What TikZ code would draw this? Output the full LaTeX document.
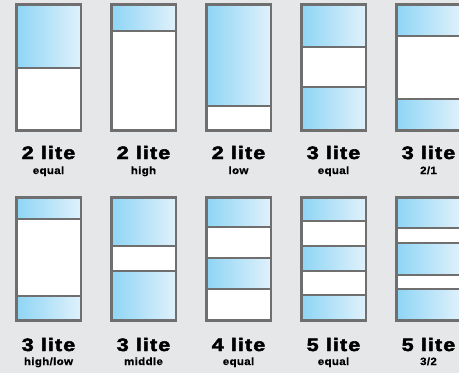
\documentclass[tikz,border=0pt]{standalone}
\usepackage{fontspec}
\usepackage{xcolor}
\usetikzlibrary{positioning}
\newfontfamily\titlefam{Liberation Sans}[UprightFont=* Bold, LetterSpace=6, FakeBold=2.6, FakeStretch=1.2]
\newfontfamily\subfam{Liberation Sans}[UprightFont=* Bold, LetterSpace=3, FakeBold=0.8, FakeStretch=1.1]
\definecolor{bgGray}{HTML}{E6E7E9}
\definecolor{frameGray}{HTML}{6F6F70}
\definecolor{glassL}{HTML}{8ED5F5}
\definecolor{glassR}{HTML}{E0F1FB}

% one window: x, top, bottom
\newcommand\sashframe[3]{\fill[white] (#1,#2) rectangle (#1+64.5,#3);}
\newcommand\sashline[3]{\draw[frame] (#1,#2) rectangle (#1+64.5,#3);}
% blue pane: x, from, to
\newcommand\pane[3]{\shade[glass] (#1,#2) rectangle (#1+64.5,#3);}
% muntin: x, y
\newcommand\muntin[2]{\draw[frame] (#1,#2) -- (#1+64.5,#2);}

\begin{document}
\begin{tikzpicture}[x=1pt, y=-1pt,
    glass/.style={left color=glassL, right color=glassR},
    frame/.style={draw=frameGray, line width=2.5pt},
    title/.style={font=\titlefam\fontsize{18}{19}\selectfont, anchor=base, inner sep=0pt},
    sub/.style={font=\subfam\fontsize{10.5}{11}\selectfont, anchor=base, inner sep=0pt}]
  \fill[bgGray] (0,0) rectangle (459,373);
  \useasboundingbox (0,0) rectangle (459,373);
  \clip (0,0) rectangle (459,373);

  % top row
  \sashframe{16.25}{4.6}{130.4}
  \pane{16.25}{4.6}{68}
  \muntin{16.25}{68}
  \sashline{16.25}{4.6}{130.4}

  \sashframe{111.25}{4.6}{130.4}
  \pane{111.25}{4.6}{31}
  \muntin{111.25}{31}
  \sashline{111.25}{4.6}{130.4}

  \sashframe{206.25}{4.6}{130.4}
  \pane{206.25}{4.6}{106}
  \muntin{206.25}{106}
  \sashline{206.25}{4.6}{130.4}

  \sashframe{301.25}{4.6}{130.4}
  \pane{301.25}{4.6}{47}
  \pane{301.25}{87}{130.4}
  \muntin{301.25}{47}
  \muntin{301.25}{87}
  \sashline{301.25}{4.6}{130.4}

  \sashframe{396.25}{4.6}{130.4}
  \pane{396.25}{4.6}{36}
  \pane{396.25}{99}{130.4}
  \muntin{396.25}{36}
  \muntin{396.25}{99}
  \sashline{396.25}{4.6}{130.4}

  % bottom row
  \sashframe{16.25}{197.25}{320.5}
  \pane{16.25}{197.25}{219}
  \pane{16.25}{296}{320.5}
  \muntin{16.25}{219}
  \muntin{16.25}{296}
  \sashline{16.25}{197.25}{320.5}

  \sashframe{111.25}{197.25}{320.5}
  \pane{111.25}{197.25}{246}
  \pane{111.25}{271}{320.5}
  \muntin{111.25}{246}
  \muntin{111.25}{271}
  \sashline{111.25}{197.25}{320.5}

  \sashframe{206.25}{197.25}{320.5}
  \pane{206.25}{197.25}{227}
  \pane{206.25}{258}{289}
  \muntin{206.25}{227}
  \muntin{206.25}{258}
  \muntin{206.25}{289}
  \sashline{206.25}{197.25}{320.5}

  \sashframe{301.25}{197.25}{320.5}
  \pane{301.25}{197.25}{221}
  \pane{301.25}{246}{271}
  \pane{301.25}{295}{320.5}
  \muntin{301.25}{221}
  \muntin{301.25}{246}
  \muntin{301.25}{271}
  \muntin{301.25}{295}
  \sashline{301.25}{197.25}{320.5}

  \sashframe{396.25}{197.25}{320.5}
  \pane{396.25}{197.25}{228}
  \pane{396.25}{243}{275}
  \pane{396.25}{289}{320.5}
  \muntin{396.25}{228}
  \muntin{396.25}{243}
  \muntin{396.25}{275}
  \muntin{396.25}{289}
  \sashline{396.25}{197.25}{320.5}

  % labels
  \foreach \x/\n/\s [count=\i] in {48.5/2/equal, 143.5/2/high, 238.5/2/low,
      333.5/3/equal, 428.5/3/{2/1}} {
    \node[title] (top\i) at (\x,159) {\n\ lite};
    \node[sub] (topsub\i) at (\x,174) {\s};
  }
  \foreach \x/\n/\s [count=\i] in {48.5/3/{high/low}, 143.5/3/middle, 238.5/4/equal,
      333.5/5/equal, 428.5/5/{3/2}} {
    \node[title] (bot\i) at (\x,351) {\n\ lite};
    \node[sub] (botsub\i) at (\x,365) {\s};
  }
\end{tikzpicture}
\end{document}
